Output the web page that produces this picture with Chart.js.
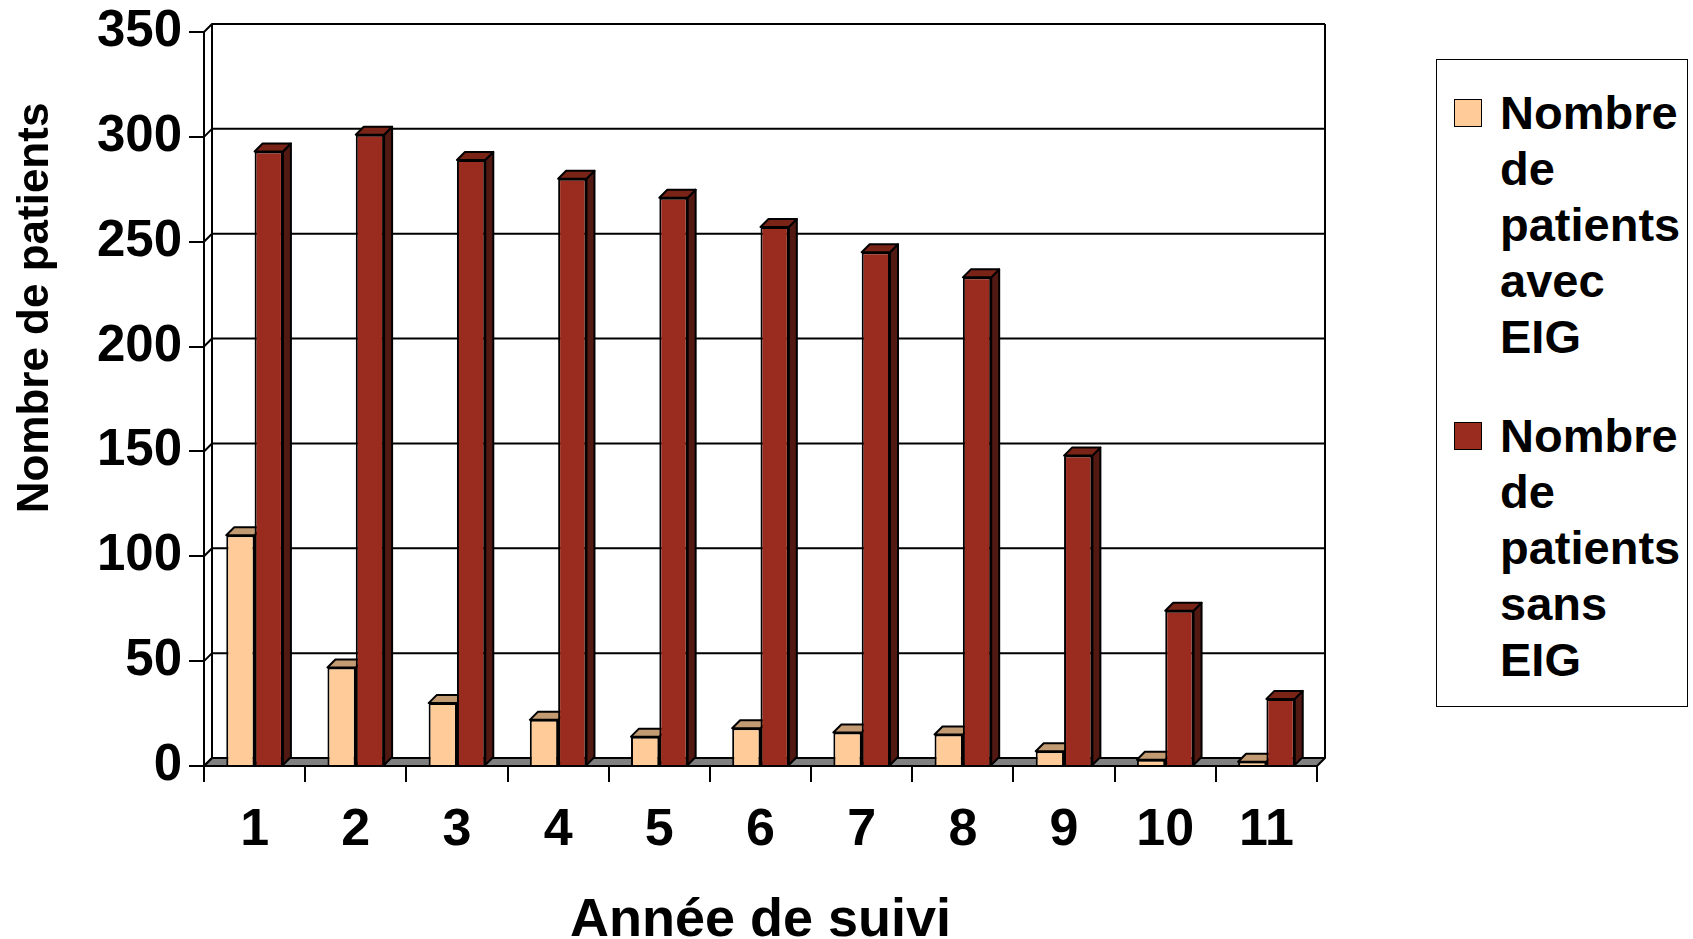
<!DOCTYPE html>
<html lang="fr">
<head>
<meta charset="utf-8">
<title>Nombre de patients par année de suivi</title>
<script src="https://cdn.jsdelivr.net/npm/chart.js@4/dist/chart.umd.min.js"></script>
<style>
  html, body { margin: 0; padding: 0; background: #fff; }
  #wrap { position: relative; width: 1693px; height: 939px; }
  #legend {
    position: absolute; left: 1436px; top: 59px; width: 252px; height: 648px;
    border: 1.5px solid #000; box-sizing: border-box; background: #fff;
  }
  #legend .item {
    position: relative; padding-left: 63px; margin-top: 43px;
    font: bold 47px "Liberation Sans", Arial, sans-serif; line-height: 56px; color: #000;
  }
  #legend .item:first-child { margin-top: 25px; }
  #legend .txt { display: block; width: 185px; }
  #legend .sw {
    position: absolute; left: 17px; top: 14px; width: 28px; height: 28px;
    border: 1px solid #000; box-sizing: border-box;
  }
</style>
</head>
<body>
<div id="wrap">
  <canvas id="myChart"></canvas>
  <div id="legend"></div>
</div>
<script>
/* DATA */
const years = ['1', '2', '3', '4', '5', '6', '7', '8', '9', '10', '11'];
const avecEIG = [110, 47, 30, 22, 14, 18, 16, 15, 7, 3, 2];
const sansEIG = [293, 301, 289, 280, 271, 257, 245, 233, 148, 74, 32];
const seriesNames = ['Nombre de patients avec EIG', 'Nombre de patients sans EIG'];
const yTicks = [0, 50, 100, 150, 200, 250, 300, 350];

const FONT = '"Liberation Sans", Arial, sans-serif';
const DX = 8, DY = 8; // depth of the 3D effect

/* 3D faces, back wall and floor */
const box3d = {
  id: 'box3d',
  beforeDatasetsDraw(chart, args, opts) {
    const ctx = chart.ctx;
    const a = chart.chartArea;
    const y = chart.scales.y;

    const poly = function (pts, fill) {
      ctx.beginPath();
      ctx.moveTo(pts[0][0], pts[0][1]);
      for (let i = 1; i < pts.length; i++) ctx.lineTo(pts[i][0], pts[i][1]);
      ctx.closePath();
      ctx.fillStyle = fill;
      ctx.fill();
      ctx.stroke();
    };

    ctx.save();
    ctx.strokeStyle = '#000';
    ctx.lineWidth = 2;
    ctx.lineJoin = 'round';

    // floor
    poly([[a.left, a.bottom], [a.right, a.bottom], [a.right + DX, a.bottom - DY], [a.left + DX, a.bottom - DY]], '#808080');

    // back wall grid lines
    ctx.beginPath();
    y.ticks.forEach(function (t) {
      const py = y.getPixelForValue(t.value);
      ctx.moveTo(a.left, py);
      ctx.lineTo(a.left + DX, py - DY);
      ctx.lineTo(a.right + DX, py - DY);
    });
    ctx.moveTo(a.left + DX, a.top - DY);
    ctx.lineTo(a.left + DX, a.bottom - DY);
    ctx.moveTo(a.right + DX, a.top - DY);
    ctx.lineTo(a.right + DX, a.bottom - DY);
    ctx.stroke();

    // top and side faces of every bar (fronts are drawn by Chart.js afterwards)
    chart.data.datasets.forEach(function (ds, i) {
      const meta = chart.getDatasetMeta(i);
      const faces = opts.faces[i];
      meta.data.forEach(function (bar) {
        const p = bar.getProps(['x', 'y', 'base', 'width'], true);
        const l = p.x - p.width / 2, r = p.x + p.width / 2;
        poly([[r, p.y], [r + DX, p.y - DY], [r + DX, p.base - DY], [r, p.base]], faces.side);
        poly([[l, p.y], [l + DX, p.y - DY], [r + DX, p.y - DY], [r, p.y]], faces.top);
      });
    });
    ctx.restore();
  }
};

/* rotated y axis title */
const yTitle = {
  id: 'yTitle',
  afterDraw(chart, args, opts) {
    const ctx = chart.ctx;
    ctx.save();
    ctx.translate(opts.x, opts.y);
    ctx.rotate(-Math.PI / 2);
    ctx.font = 'bold 44px ' + FONT;
    ctx.fillStyle = '#000';
    ctx.textAlign = 'center';
    ctx.textBaseline = 'middle';
    ctx.fillText(opts.text, 0, 0);
    ctx.restore();
  }
};

const ctx = document.getElementById('myChart');

const chart = new Chart(ctx, {
  type: 'bar',
  data: {
    labels: years,
    datasets: [{
      label: seriesNames[0],
      data: avecEIG,
      backgroundColor: '#FFCC99',
      borderColor: '#000',
      borderWidth: 2
    }, {
      label: seriesNames[1],
      data: sansEIG,
      backgroundColor: '#9A2B1F',
      borderColor: '#000',
      borderWidth: 2
    }]
  },
  plugins: [box3d, yTitle],
  options: {
    responsive: true,
    maintainAspectRatio: false,
    animation: false,
    events: [],
    categoryPercentage: 0.56,
    barPercentage: 1,
    layout: { padding: { top: 32, right: 376, left: 0, bottom: 0 } },
    scales: {
      x: {
        grid: { drawOnChartArea: false, drawTicks: true, tickLength: 16, color: '#000', lineWidth: 2 },
        border: { color: '#000', width: 2 },
        ticks: { color: '#000', padding: 17, font: { family: FONT, size: 52, weight: 'bold' } },
        title: {
          display: true, text: 'Année de suivi', color: '#000',
          font: { family: FONT, size: 54, weight: 'bold', lineHeight: 1 },
          padding: { top: 0, bottom: -9 }
        },
        afterFit: function (s) { s.height = 173; s.paddingLeft = 0; s.paddingRight = 0; }
      },
      y: {
        min: 0, max: 350,
        afterBuildTicks: function (s) { s.ticks = yTicks.map(function (v) { return { value: v }; }); },
        grid: { drawOnChartArea: false, drawTicks: true, tickLength: 15, color: '#000', lineWidth: 2 },
        border: { color: '#000', width: 2 },
        ticks: { color: '#000', padding: 7, font: { family: FONT, size: 51, weight: 'bold' } },
        afterFit: function (s) { s.width = 204; s.paddingTop = 0; s.paddingBottom = 0; }
      }
    },
    plugins: {
      legend: { display: false },
      tooltip: { enabled: false },
      box3d: {
        faces: [
          { top: '#C29B72', side: '#B08660' },
          { top: '#7A2418', side: '#521812' }
        ]
      },
      yTitle: { text: 'Nombre de patients', x: 36, y: 308 }
    }
  }
});

/* HTML legend built from the datasets */
const legendEl = document.getElementById('legend');
chart.data.datasets.forEach(function (ds) {
  const item = document.createElement('div');
  item.className = 'item';
  const sw = document.createElement('span');
  sw.className = 'sw';
  sw.style.background = ds.backgroundColor;
  const txt = document.createElement('span');
  txt.className = 'txt';
  txt.textContent = ds.label;
  item.appendChild(sw);
  item.appendChild(txt);
  legendEl.appendChild(item);
});
</script>
</body>
</html>
